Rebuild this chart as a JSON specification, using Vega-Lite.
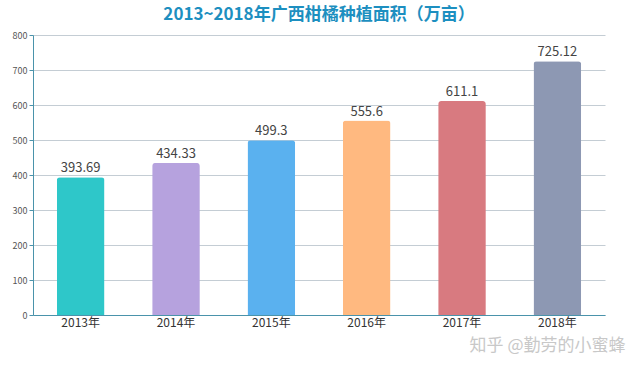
{
  "$schema": "https://vega.github.io/schema/vega-lite/v6.json",
  "autosize": "none",
  "width": 572,
  "height": 280,
  "padding": {"left": 33, "top": 35, "right": 35, "bottom": 51},
  "background": "white",
  "config": {"font": "Noto Sans CJK SC", "view": {"stroke": null}},
  "title": {"text": "2013~2018年广西柑橘种植面积（万亩）", "fontSize": 17, "fontWeight": "bold", "color": "#1d8fc0", "anchor": "middle", "offset": 7},
  "data": {"values": [
    {"year": "2013年", "value": 393.69},
    {"year": "2014年", "value": 434.33},
    {"year": "2015年", "value": 499.3},
    {"year": "2016年", "value": 555.6},
    {"year": "2017年", "value": 611.1},
    {"year": "2018年", "value": 725.12}
  ]},
  "encoding": {
    "x": {"field": "year", "type": "nominal", "sort": null, "scale": {"paddingInner": 0.5, "paddingOuter": 0.25},
      "axis": {"labelAngle": 0, "labelFontSize": 12, "labelColor": "#333", "labelPadding": 2, "domainColor": "#4a93ab", "domainWidth": 1, "ticks": false,
        "title": "知乎 @勤劳的小蜜蜂", "titleAnchor": "end", "titleFontSize": 17, "titleFontWeight": "normal", "titleColor": "#c8c8c8", "titlePadding": 9, "titleX": 592}},
    "y": {"field": "value", "type": "quantitative", "scale": {"domain": [0, 800]},
      "axis": {"values": [0,100,200,300,400,500,600,700,800], "title": null, "labelFontSize": 9, "labelColor": "#555", "domainColor": "#4a93ab", "tickColor": "#4a93ab", "tickSize": 4, "gridColor": "#c4cdd4", "labelPadding": 2}}
  },
  "layer": [
    {"mark": {"type": "bar", "cornerRadiusTopLeft": 3, "cornerRadiusTopRight": 3},
      "encoding": {"color": {"field": "year", "type": "nominal", "sort": null, "legend": null,
        "scale": {"range": ["#2ec7c9", "#b6a2de", "#5ab1ef", "#ffb980", "#d87a80", "#8d98b3"]}}}},
    {"mark": {"type": "text", "dy": -9, "fontSize": 13, "color": "#444"},
      "encoding": {"text": {"field": "value", "type": "quantitative", "format": ".5~g"}}}
  ]
}
